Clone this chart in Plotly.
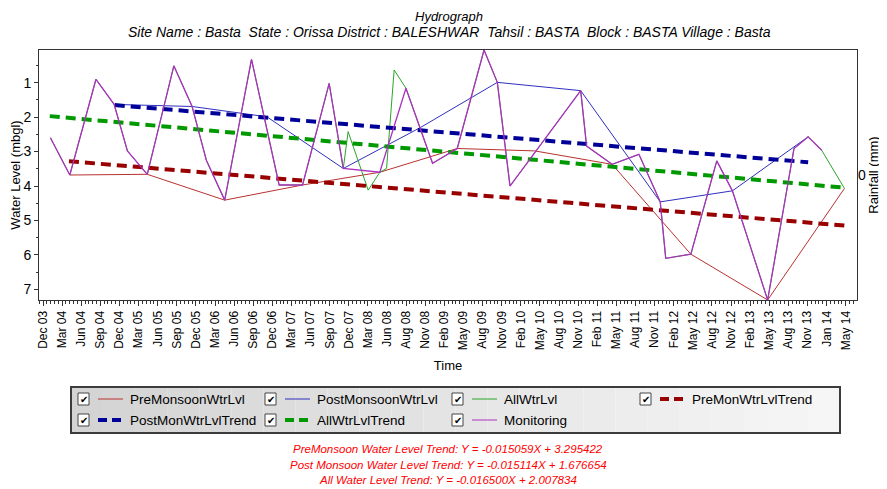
import pandas as pd
import plotly.graph_objects as go

# ---------------- data ----------------
tick_labels = ["Dec 03", "Mar 04", "Jun 04", "Sep 04", "Dec 04", "Mar 05", "Jun 05", "Sep 05",
               "Dec 05", "Mar 06", "Jun 06", "Sep 06", "Dec 06", "Mar 07", "Jun 07", "Sep 07",
               "Dec 07", "Mar 08", "Jun 08", "Aug 08", "Nov 08", "Feb 09", "May 09", "Aug 09",
               "Nov 09", "Feb 10", "May 10", "Aug 10", "Nov 10", "Feb 11", "May 11", "Aug 11",
               "Nov 11", "Feb 12", "May 12", "Aug 12", "Nov 12", "Feb 13", "May 13", "Aug 13",
               "Nov 13", "Jan 14", "May 14"]

pre_dates = ["2004-04-06", "2005-04-08", "2006-04-10", "2007-04-14", "2008-04-14", "2009-04-16",
             "2010-04-18", "2011-04-20", "2012-04-27", "2013-04-26", "2014-04-25"]
pre_vals = [3.68, 3.66, 4.41, 3.97, 3.60, 2.91, 2.98, 3.37, 5.98, 7.31, 4.07]

post_dates = ["2004-11-02", "2005-11-06", "2006-10-27", "2007-10-24", "2008-10-24", "2009-10-23",
              "2010-11-22", "2011-12-04", "2012-11-10", "2013-11-04"]
post_vals = [1.63, 1.69, 1.99, 3.49, 2.30, 0.99, 1.23, 4.46, 4.14, 2.57]

mon_dates = ["2004-01-05", "2004-04-06", "2004-08-08", "2004-11-02", "2005-01-04", "2005-04-08",
             "2005-08-12", "2005-11-06", "2006-01-13", "2006-04-10", "2006-08-15", "2006-12-24",
             "2007-04-14", "2007-08-18", "2007-10-24", "2008-04-14", "2008-08-16", "2008-12-20",
             "2009-04-16", "2009-08-21", "2009-10-23", "2009-12-22", "2010-11-22", "2010-12-20",
             "2011-04-20", "2011-08-25", "2011-12-04", "2011-12-30", "2012-04-27", "2012-08-28",
             "2012-11-10", "2013-04-26", "2013-08-29", "2013-11-04", "2014-01-07"]
mon_vals = [2.60, 3.68, 0.90, 1.63, 2.98, 3.66,
            0.51, 1.68, 3.25, 4.41, 0.32, 3.97,
            3.97, 1.02, 3.49, 3.60, 1.16, 3.34,
            2.91, 0.05, 0.99, 4.00, 1.23, 2.84,
            3.37, 3.08, 4.46, 6.10, 5.98, 3.27,
            4.14, 7.31, 2.91, 2.57, 2.96]

all_dates = ["2004-01-05", "2004-04-06", "2004-08-08", "2004-11-02", "2005-01-04", "2005-04-08",
             "2005-08-12", "2005-11-06", "2006-01-13", "2006-04-10", "2006-08-15", "2006-12-24",
             "2007-04-14", "2007-08-18", "2007-10-24", "2007-11-16", "2008-02-19", "2008-04-14",
             "2008-05-16", "2008-06-21", "2008-08-16", "2008-12-20",
             "2009-04-16", "2009-08-21", "2009-10-23", "2009-12-22", "2010-11-22", "2010-12-20",
             "2011-04-20", "2011-08-25", "2011-12-04", "2011-12-30", "2012-04-27", "2012-08-28",
             "2012-11-10", "2013-04-26", "2013-08-29", "2013-11-04", "2014-01-07", "2014-04-25"]
all_vals = [2.60, 3.68, 0.90, 1.63, 2.98, 3.66,
            0.51, 1.68, 3.25, 4.41, 0.32, 3.97,
            3.97, 1.02, 3.49, 2.42, 4.12, 3.60,
            3.49, 0.63, 1.16, 3.34,
            2.91, 0.05, 0.99, 4.00, 1.23, 2.84,
            3.37, 3.08, 4.46, 6.10, 5.98, 3.27,
            4.14, 7.31, 2.91, 2.57, 2.96, 4.07]

pre_trend_dates = ["2004-04-02", "2014-04-27"]
pre_trend_vals = [3.28, 5.15]
post_trend_dates = ["2004-11-05", "2013-11-04"]
post_trend_vals = [1.65, 3.31]
all_trend_dates = ["2004-01-02", "2014-04-27"]
all_trend_vals = [1.97, 4.05]

footer_lines = ["PreMonsoon Water Level Trend: Y = -0.015059X + 3.295422",
                "Post Monsoon Water Level Trend: Y = -0.015114X + 1.676654",
                "All Water Level Trend: Y = -0.016500X + 2.007834"]

# ---------------- styles ----------------
FONT = "Liberation Sans, Arial, sans-serif"
C_PRE, C_POST, C_ALL, C_MON = "#b8312f", "#2f2fc0", "#2aa52a", "#ad30c0"
C_PRET, C_POSTT, C_ALLT = "#990000", "#000099", "#009900"
DASH = "10px,6px"

series = [
    ("PreMonsoonWtrLvl", pre_dates, pre_vals, dict(color=C_PRE, width=1), False),
    ("PostMonsoonWtrLvl", post_dates, post_vals, dict(color=C_POST, width=1), False),
    ("AllWtrLvl", all_dates, all_vals, dict(color=C_ALL, width=1), False),
    ("PreMonWtrLvlTrend", pre_trend_dates, pre_trend_vals, dict(color=C_PRET, width=4, dash=DASH), True),
    ("PostMonWtrLvlTrend", post_trend_dates, post_trend_vals, dict(color=C_POSTT, width=4, dash=DASH), True),
    ("AllWtrLvlTrend", all_trend_dates, all_trend_vals, dict(color=C_ALLT, width=4, dash=DASH), True),
    ("Monitoring", mon_dates, mon_vals, dict(color=C_MON, width=1.3), False),
]

fig = go.Figure()
for name, xs, ys, line, _ in series:
    fig.add_trace(go.Scatter(x=pd.to_datetime(xs), y=ys, mode="lines", name=name,
                             line=line, showlegend=False, hoverinfo="x+y+name"))
# empty trace for the rainfall axis
fig.add_trace(go.Scatter(x=[], y=[], yaxis="y2", showlegend=False))

# x ticks: evenly spaced
start = pd.Timestamp("2003-12-01")
step = pd.Timedelta(days=3804 / 42)
tickvals = [start + i * step for i in range(len(tick_labels))]
minor_vals = [start + (i / 5) * step for i in range(-1, 5 * len(tick_labels) + 3)]
xrange = [start - 0.21 * step, start + 42.59 * step]

# page has an 8px body margin: shrink the figure so that it ends at the window edge
OFF = 8
W, H = 887 - OFF, 489 - OFF
L, R, T, B = 39 - OFF, 30, 50 - OFF, 189
pw, ph = W - L - R, H - T - B


def px(x):  # window pixel -> paper
    return (x - OFF - L) / pw


def py(y):
    return (H - B - (y - OFF)) / ph


fig.update_layout(
    width=W, height=H,
    margin=dict(l=L, r=R, t=T, b=B),
    paper_bgcolor="white", plot_bgcolor="white",
    font=dict(family=FONT, color="black", size=12),
    showlegend=False,
    xaxis=dict(type="date", range=xrange, tickmode="array", tickvals=tickvals, ticktext=tick_labels,
               tickangle=-90, ticks="outside", ticklen=5, tickcolor="#333", tickfont=dict(size=12),
               showgrid=False, zeroline=False, showline=True, linecolor="#333", linewidth=1, mirror=True,
               minor=dict(tickmode="array", tickvals=minor_vals, ticks="outside", ticklen=3,
                          tickcolor="#333", showgrid=False),
               title=dict(text="Time", font=dict(size=13), standoff=11),
               automargin=False),
    yaxis=dict(range=[7.31, 0.05], tickmode="array", tickvals=[1, 2, 3, 4, 5, 6, 7],
               ticks="outside", ticklen=4, tickcolor="#333", tickfont=dict(size=14),
               showgrid=False, zeroline=False, showline=True, linecolor="#333", linewidth=1, mirror=True,
               minor=dict(tickmode="array", tickvals=[0.5, 1.5, 2.5, 3.5, 4.5, 5.5, 6.5],
                          ticks="outside", ticklen=2, tickcolor="#333"),
               title=dict(text="Water Level (mbgl)", font=dict(size=13), standoff=6),
               automargin=False),
    yaxis2=dict(overlaying="y", side="right", range=[-1, 1], tickmode="array", tickvals=[0],
                ticktext=["0"], tickfont=dict(size=14), ticks="", showgrid=False, zeroline=False,
                showline=False, title=dict(text="Rainfall (mm)", font=dict(size=13), standoff=2),
                automargin=False),
)

ann = []
shapes = []
# titles
ann.append(dict(text="Hydrograph", x=px(449), y=py(16), xref="paper", yref="paper",
                showarrow=False, font=dict(size=13, style="italic"), xanchor="center", yanchor="middle"))
ann.append(dict(text="Site Name : Basta  State : Orissa District : BALESHWAR  Tahsil : BASTA  Block : BASTA Village : Basta",
                x=px(449), y=py(32), xref="paper", yref="paper", showarrow=False,
                font=dict(size=14, style="italic"), xanchor="center", yanchor="middle"))

# legend box with gradient background
bx0, bx1, by0, by1 = 71, 840, 387, 433
nstrip = 24
for k in range(nstrip):
    g = int(212 + (246 - 212) * k / (nstrip - 1))
    shapes.append(dict(type="rect", xref="paper", yref="paper",
                       x0=px(bx0 + (bx1 - bx0) * k / nstrip), x1=px(bx0 + (bx1 - bx0) * (k + 1) / nstrip),
                       y0=py(by1), y1=py(by0), line=dict(width=0),
                       fillcolor=f"rgb({g},{g},{g})", layer="below"))
shapes.append(dict(type="rect", xref="paper", yref="paper", x0=px(bx0), x1=px(bx1),
                   y0=py(by1), y1=py(by0), line=dict(color="#3c3c3c", width=2)))

legend_order = [0, 1, 2, 3, 4, 5, 6]
col_x = [78, 265, 452, 640]
row_y = [399, 420]
for pos, si in enumerate(legend_order):
    name, _, _, line, dashed = series[si]
    r, c = divmod(pos, 4)
    cx, cy = col_x[c], row_y[r]
    # checkbox
    shapes.append(dict(type="rect", xref="paper", yref="paper", x0=px(cx), x1=px(cx + 11),
                       y0=py(cy + 6), y1=py(cy - 6), fillcolor="white", line=dict(color="#444", width=1)))
    ann.append(dict(text="✔", x=px(cx + 5.5), y=py(cy), xref="paper", yref="paper", showarrow=False,
                    font=dict(size=10, color="black", family="DejaVu Sans"), xanchor="center", yanchor="middle"))
    # line sample
    sline = dict(color=line["color"], width=1 if not dashed else 4)
    if dashed:
        sline["dash"] = "9px,5px"
    shapes.append(dict(type="line", xref="paper", yref="paper", x0=px(cx + 20), x1=px(cx + 45),
                       y0=py(cy), y1=py(cy), line=sline))
    ann.append(dict(text=name, x=px(cx + 50), y=py(cy), xref="paper", yref="paper", showarrow=False,
                    font=dict(size=13.5), xanchor="left", yanchor="middle"))

# footer
for i, t in enumerate(footer_lines):
    ann.append(dict(text=t, x=px(448), y=py(449 + 15.5 * i), xref="paper", yref="paper", showarrow=False,
                    font=dict(size=11.5, color="#ff0000", style="italic"), xanchor="center", yanchor="middle"))

fig.update_layout(annotations=ann, shapes=shapes)
fig.write_html("out.html")
